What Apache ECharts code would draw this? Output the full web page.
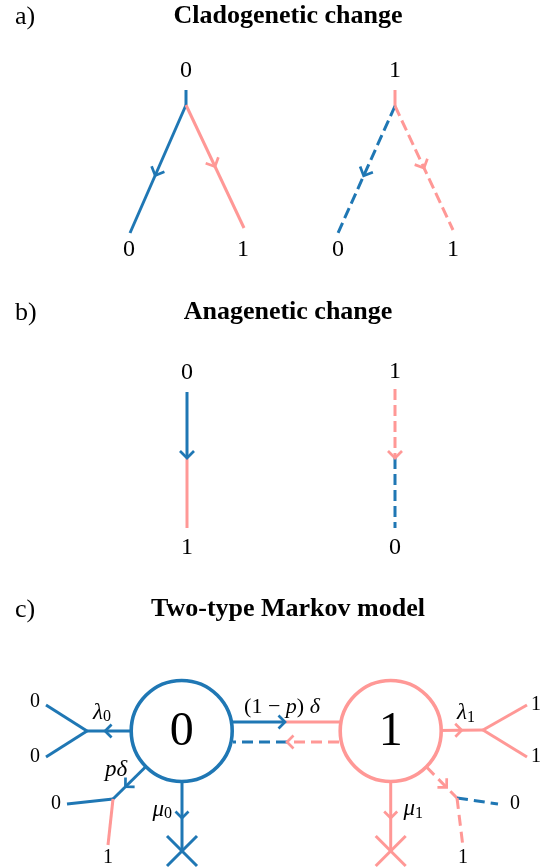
<!DOCTYPE html>
<html><head><meta charset="utf-8">
<script src="https://cdn.jsdelivr.net/npm/echarts@6/dist/echarts.min.js"></script>
<style>html,body{margin:0;padding:0;background:#fff}#c{width:546px;height:868px}</style>
</head><body><div id="c"></div>
<script>
const BLUE = '#1f77b4', PINK = '#ff9896';
const B = 0, P = 1;            // colour codes: 0 = state 0 (blue), 1 = state 1 (pink)
const COLORS = [BLUE, PINK];
const SERIF = '"Liberation Serif", "Times New Roman", serif';

// ---- panel headers ----
const panelLetters = ['a)', 'b)', 'c)'];
const panelTitles = ['Cladogenetic change', 'Anagenetic change', 'Two-type Markov model'];
const headerY = [16, 312, 609];

// ---- panel a: cladogenetic change (segments: x1, y1, x2, y2, colour, dashed) ----
const cladoSegments = [
  [186, 90, 186, 105, B, 0],
  [186, 105, 130, 233, B, 0],
  [186, 105, 244, 228, P, 0],
  [395, 90, 395, 106, P, 0],
  [395, 106, 338, 233, B, 1],
  [395, 106, 453, 230, P, 1]
];
const cladoArrows = [[1, 0.55], [2, 0.5], [4, 0.55], [5, 0.5]];   // [segment, fraction]
const cladoLabels = [['0', 186, 71], ['0', 129, 250], ['1', 243, 250],
                     ['1', 395, 71], ['0', 338, 250], ['1', 453, 250]];

// ---- panel b: anagenetic change ----
const anaSegments = [
  [187, 392, 187, 458, B, 0],
  [187, 458, 187, 528, P, 0],
  [395, 389, 395, 458, P, 1],
  [395, 458, 395, 528, B, 1]
];
const anaArrows = [[0, 1], [2, 1]];
const anaLabels = [['0', 187, 373], ['1', 187, 548], ['1', 395, 372], ['0', 395, 548]];

// ---- panel c: two-type Markov model ----
const markovStates = [['0', 181.7, 731, B], ['1', 390.7, 731, P]];
const markovSegments = [
  [182, 722, 285, 722, B, 0],       // (1-p) delta : 0 -> 1
  [285, 722, 390, 722, P, 0],
  [339, 742, 287, 742, P, 1],       // 1 -> 0 (dashed)
  [287, 742, 233, 742, B, 1],
  [182, 731, 87, 731, B, 0],        // lambda0
  [87, 731, 46, 705, B, 0],
  [87, 731, 46, 757, B, 0],
  [182, 731, 113, 799, B, 0],       // p delta
  [113, 799, 67, 804, B, 0],
  [113, 799, 108, 845, P, 0],
  [182, 731, 182, 851, B, 0],       // mu0
  [390.7, 731, 483, 730, P, 0],     // lambda1
  [483, 730, 527, 705, P, 0],
  [483, 730, 527, 757, P, 0],
  [426.5, 767, 457, 798, P, 1],     // dashed cladogenetic from 1
  [457, 798, 498, 804, B, 1],
  [457, 798, 463, 847, P, 1],
  [390.7, 731, 390.7, 851, P, 0]    // mu1
];
const markovArrows = [[0, 1], [2, 1], [4, 0.81], [7, 0.82], [10, 0.725], [11, 0.77], [14, 0.66], [17, 0.725]];
const markovDeaths = [[182, 851, B], [390.7, 851, P]];
const markovTipLabels = [['0', 35, 702], ['0', 35, 757], ['0', 56, 804], ['1', 108, 858],
                         ['1', 536, 705], ['1', 536, 757], ['0', 515, 804], ['1', 463, 858]];
const rateLabels = [['λ', '0', 103, 712.5], ['λ', '1', 467, 713], ['μ', '0', 164, 809.5],
                    ['μ', '1', 415, 809], ['pδ', '', 116, 770]];
const transitionLabel = ['(1 − ', 'p', ') ', 'δ', 282, 707.5];

// ---- helpers ----
function segSeries(segs, dash, z) {
  return {
    type: 'custom', coordinateSystem: 'cartesian2d', z: z, silent: true,
    data: segs.map(s => s.slice()),
    renderItem: function (params, api) {
      const p1 = api.coord([api.value(0), api.value(1)]);
      const p2 = api.coord([api.value(2), api.value(3)]);
      return {
        type: 'line',
        shape: { x1: p1[0], y1: p1[1], x2: p2[0], y2: p2[1] },
        style: { stroke: COLORS[api.value(4)], lineWidth: 3, lineDash: api.value(5) ? dash : null, lineCap: 'butt' }
      };
    }
  };
}
function arrowSeries(segs, arrows, size, z) {
  return {
    type: 'custom', coordinateSystem: 'cartesian2d', z: z, silent: true,
    data: arrows.map(a => { const s = segs[a[0]]; return [s[0], s[1], s[2], s[3], a[1], s[4]]; }),
    renderItem: function (params, api) {
      const p1 = api.coord([api.value(0), api.value(1)]);
      const p2 = api.coord([api.value(2), api.value(3)]);
      const t = api.value(4);
      const dx = p2[0] - p1[0], dy = p2[1] - p1[1], L = Math.hypot(dx, dy);
      const ux = dx / L, uy = dy / L;
      const tip = [p1[0] + dx * t, p1[1] + dy * t];
      const a1 = [tip[0] - ux * size - uy * size, tip[1] - uy * size + ux * size];
      const a2 = [tip[0] - ux * size + uy * size, tip[1] - uy * size - ux * size];
      return {
        type: 'polyline', shape: { points: [a1, tip, a2] },
        style: { stroke: COLORS[api.value(5)], lineWidth: 2.7, fill: 'none' }
      };
    }
  };
}
function textSeries(labels, font, z) {
  return {
    type: 'custom', coordinateSystem: 'cartesian2d', z: z, silent: true,
    data: labels.map(l => [l[1], l[2]]),
    renderItem: function (params, api) {
      const p = api.coord([api.value(0), api.value(1)]);
      return {
        type: 'text', x: p[0], y: p[1],
        style: { text: labels[params.dataIndex][0], font: font, fill: '#000', align: 'center', verticalAlign: 'middle' }
      };
    }
  };
}

const headerSeries = {
  type: 'custom', coordinateSystem: 'cartesian2d', z: 10, silent: true,
  data: headerY.map(y => [288, y]),
  renderItem: function (params, api) {
    const p = api.coord([api.value(0), api.value(1)]);
    const l = api.coord([15, api.value(1) + 1]);
    return {
      type: 'group', children: [
        { type: 'text', x: l[0], y: l[1], style: { text: panelLetters[params.dataIndex], font: '26px ' + SERIF, fill: '#000', align: 'left', verticalAlign: 'middle' } },
        { type: 'text', x: p[0], y: p[1], style: { text: panelTitles[params.dataIndex], font: 'bold 26px ' + SERIF, fill: '#000', align: 'center', verticalAlign: 'middle' } }
      ]
    };
  }
};

const stateSeries = {
  type: 'custom', coordinateSystem: 'cartesian2d', z: 5, silent: true,
  data: markovStates.map(s => [s[1], s[2]]),
  renderItem: function (params, api) {
    const c = api.coord([api.value(0), api.value(1)]);
    const r = api.size([50.5, 0])[0];
    const st = markovStates[params.dataIndex];
    return {
      type: 'group', children: [
        { type: 'circle', shape: { cx: c[0], cy: c[1], r: r }, style: { fill: '#fff', stroke: COLORS[st[3]], lineWidth: 3.6 } },
        { type: 'text', x: c[0], y: c[1] + 1, style: { text: st[0], font: '48px ' + SERIF, fill: '#000', align: 'center', verticalAlign: 'middle' } }
      ]
    };
  }
};

const deathSeries = {
  type: 'custom', coordinateSystem: 'cartesian2d', z: 4, silent: true,
  data: markovDeaths.map(d => [d[0], d[1], d[2]]),
  renderItem: function (params, api) {
    const c = api.coord([api.value(0), api.value(1)]);
    const h = api.size([15, 0])[0];
    const st = { stroke: COLORS[api.value(2)], lineWidth: 3 };
    return {
      type: 'group', children: [
        { type: 'line', shape: { x1: c[0] - h, y1: c[1] - h, x2: c[0] + h, y2: c[1] + h }, style: st },
        { type: 'line', shape: { x1: c[0] + h, y1: c[1] - h, x2: c[0] - h, y2: c[1] + h }, style: st }
      ]
    };
  }
};

const rateSeries = {
  type: 'custom', coordinateSystem: 'cartesian2d', z: 10, silent: true,
  data: rateLabels.map(r => [r[2], r[3]]),
  renderItem: function (params, api) {
    const p = api.coord([api.value(0), api.value(1)]);
    const r = rateLabels[params.dataIndex];
    const children = [];
    if (r[1]) {
      children.push({ type: 'text', x: p[0], y: p[1], style: { text: r[0], font: 'italic 23px ' + SERIF, fill: '#000', align: 'right', verticalAlign: 'middle' } });
      children.push({ type: 'text', x: p[0], y: p[1] + 4.5, style: { text: r[1], font: '16px ' + SERIF, fill: '#000', align: 'left', verticalAlign: 'middle' } });
    } else {
      children.push({ type: 'text', x: p[0], y: p[1], style: { text: r[0], font: 'italic 23px ' + SERIF, fill: '#000', align: 'center', verticalAlign: 'middle' } });
    }
    return { type: 'group', children: children };
  }
};

const transitionSeries = {
  type: 'custom', coordinateSystem: 'cartesian2d', z: 10, silent: true,
  data: [[transitionLabel[4], transitionLabel[5]]],
  renderItem: function (params, api) {
    const p = api.coord([api.value(0), api.value(1)]);
    const t = transitionLabel;
    return {
      type: 'text', x: p[0], y: p[1],
      style: {
        text: '{u|' + t[0] + '}{i|' + t[1] + '}{u|' + t[2] + '}{i|' + t[3] + '}',
        align: 'center', verticalAlign: 'middle',
        rich: {
          u: { fontFamily: SERIF, fontSize: 22, fill: '#000' },
          i: { fontFamily: SERIF, fontSize: 22, fontStyle: 'italic', fill: '#000' }
        }
      }
    };
  }
};

const chart = echarts.init(document.getElementById('c'), null, { renderer: 'canvas' });
chart.setOption({
  animation: false,
  backgroundColor: '#fff',
  grid: { left: 0, right: 0, top: 0, bottom: 0 },
  xAxis: { type: 'value', min: 0, max: 546, show: false },
  yAxis: { type: 'value', min: 0, max: 868, inverse: true, show: false },
  series: [
    headerSeries,
    segSeries(cladoSegments, [11, 5], 2),
    arrowSeries(cladoSegments, cladoArrows, 7, 3),
    textSeries(cladoLabels, '24px ' + SERIF, 10),
    segSeries(anaSegments, [11, 5], 2),
    arrowSeries(anaSegments, anaArrows, 7, 3),
    textSeries(anaLabels, '24px ' + SERIF, 10),
    segSeries(markovSegments, [11, 6], 2),
    deathSeries,
    stateSeries,
    arrowSeries(markovSegments, markovArrows, 6.5, 6),
    textSeries(markovTipLabels, '20px ' + SERIF, 10),
    rateSeries,
    transitionSeries
  ]
});
</script>
</body></html>
